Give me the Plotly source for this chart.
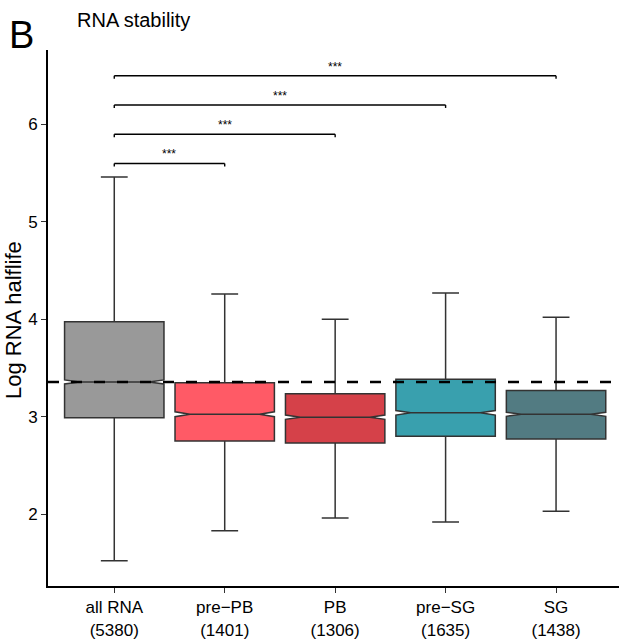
import plotly.graph_objects as go

categories = ["all RNA", "pre\u2212PB", "PB", "pre\u2212SG", "SG"]
counts = [5380, 1401, 1306, 1635, 1438]
lower_whisker = [1.52, 1.83, 1.96, 1.92, 2.03]
q1_vals = [2.99, 2.75, 2.73, 2.80, 2.77]
median_vals = [3.357, 3.025, 2.995, 3.04, 3.025]
q3_vals = [3.975, 3.35, 3.235, 3.385, 3.27]
upper_whisker = [5.46, 4.26, 4.00, 4.27, 4.02]
notch_span = [0.021, 0.025, 0.022, 0.023, 0.021]
fill_colors = ["#999999", "#FF5A66", "#D54149", "#39A0AE", "#527B82"]

comparisons = [(0, 1), (0, 2), (0, 3), (0, 4)]
bracket_y = [5.6, 5.9, 6.2, 6.5]
bracket_labels = ["***", "***", "***", "***"]

y_ticks = [2, 3, 4, 5, 6]

FONT = "Liberation Sans, Arial, Helvetica, sans-serif"

fig = go.Figure()
for i, c in enumerate(categories):
    fig.add_trace(go.Box(
        x=[c], q1=[q1_vals[i]], median=[median_vals[i]], q3=[q3_vals[i]],
        lowerfence=[lower_whisker[i]], upperfence=[upper_whisker[i]],
        notchspan=[notch_span[i]], notched=True, notchwidth=0.15,
        width=0.9, whiskerwidth=0.27, fillcolor=fill_colors[i],
        line=dict(color="#333333", width=1.5), boxpoints=False,
        showlegend=False, hoverinfo="skip",
    ))

shapes = []
# reference dashed line (median of all RNA)
shapes.append(dict(type="line", xref="paper", x0=0, x1=1, yref="y",
                   y0=median_vals[0], y1=median_vals[0],
                   line=dict(color="black", width=2.6, dash="11px,12px"), layer="above"))

annotations = []
tick_drop = 0.03
for (a, b), yv, lab in zip(comparisons, bracket_y, bracket_labels):
    shapes.append(dict(type="line", x0=a, x1=b, y0=yv, y1=yv, xref="x", yref="y",
                       line=dict(color="black", width=1.4)))
    shapes.append(dict(type="line", x0=a, x1=a, y0=yv, y1=yv - tick_drop, xref="x", yref="y",
                       line=dict(color="black", width=1.4)))
    shapes.append(dict(type="line", x0=b, x1=b, y0=yv, y1=yv - tick_drop, xref="x", yref="y",
                       line=dict(color="black", width=1.4)))
    annotations.append(dict(x=(a + b) / 2, y=yv, xref="x", yref="y", text=lab,
                            showarrow=False, yanchor="middle", yshift=9,
                            font=dict(family=FONT, size=12, color="black")))

W, H = 619, 643
ml, mr, mt, mb = 48, 0, 50, 57
pw, ph = W - ml - mr, H - mt - mb

def px_x(p):
    return (p - ml) / pw

def px_y(p):
    return 1 - (p - mt) / ph

annotations.append(dict(x=px_x(21), y=px_y(35), xref="paper", yref="paper", text="B",
                        showarrow=False, xanchor="center", yanchor="middle",
                        font=dict(family=FONT, size=38, color="black")))
annotations.append(dict(x=px_x(75), y=px_y(20), xref="paper", yref="paper", text="RNA stability",
                        showarrow=False, xanchor="left", yanchor="middle",
                        font=dict(family=FONT, size=20, color="black")))
annotations.append(dict(x=px_x(13), y=px_y(320), xref="paper", yref="paper", text="Log RNA halflife",
                        showarrow=False, xanchor="center", yanchor="middle", textangle=-90,
                        font=dict(family=FONT, size=22, color="black")))

fig.update_layout(
    width=W, height=H,
    margin=dict(l=ml, r=mr, t=mt, b=mb, pad=0),
    paper_bgcolor="white", plot_bgcolor="white",
    boxmode="overlay",
    shapes=shapes, annotations=annotations,
    font=dict(family=FONT, color="black"),
)
fig.update_xaxes(
    type="category", categoryorder="array", categoryarray=categories,
    range=[-0.6, 4.57],
    tickvals=categories,
    ticktext=[f"{c}<br>({n})" for c, n in zip(categories, counts)],
    tickfont=dict(family=FONT, size=17, color="black"),
    showline=True, linecolor="black", linewidth=2,
    ticks="outside", ticklen=5, tickwidth=1.4, tickcolor="#333333",
    showgrid=False, zeroline=False,
)
fig.update_yaxes(
    range=[1.262, 6.765],
    tickvals=y_ticks,
    tickfont=dict(family=FONT, size=17, color="black"),
    showline=True, linecolor="black", linewidth=2,
    ticks="outside", ticklen=5, tickwidth=1.4, tickcolor="#333333",
    showgrid=False, zeroline=False,
)

fig.write_html("out.html")
